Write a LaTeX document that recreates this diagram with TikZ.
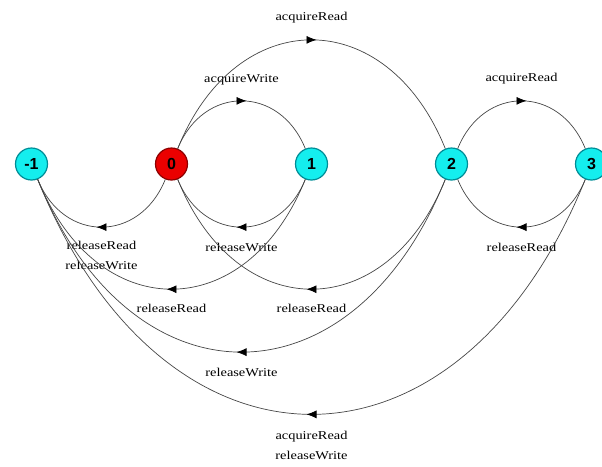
\documentclass[tikz,border=0pt]{standalone}
\usepackage{graphicx}
\usepackage{fontspec}
\setmainfont{Liberation Serif}
\newfontfamily\numfont{Liberation Sans}
\usetikzlibrary{arrows.meta,decorations.markings}
\definecolor{cyanfill}{RGB}{20,238,238}
\definecolor{cyanborder}{RGB}{0,140,150}
\definecolor{redfill}{RGB}{235,0,0}
\definecolor{redborder}{RGB}{140,0,0}
\definecolor{edgecol}{RGB}{70,70,70}
\newcommand\wide[1]{\scalebox{1.2}[1]{#1}}
\begin{document}
\begin{tikzpicture}[x=1pt,y=1pt,
  state/.style={circle, draw=cyanborder, fill=cyanfill, line width=1.2pt,
    minimum size=32pt, inner sep=0pt,
    font=\numfont\bfseries\fontsize{16}{16}\selectfont},
  startstate/.style={state, draw=redborder, fill=redfill},
  trans/.style={draw=edgecol, line width=0.7pt, postaction={decorate},
    decoration={markings, mark=at position 0.5 with
      {\arrow[xshift=5pt,black]{Latex[length=10pt,width=8pt]}}}},
  lbl/.style={inner sep=0pt, text height=9pt, text depth=3pt,
    font=\fontsize{12}{14}\selectfont},
  lbltwo/.style={inner sep=0pt, align=center,
    font=\fontsize{12}{20}\selectfont},
]
\useasboundingbox (0,0) rectangle (602,-466);
\clip (0,0) rectangle (602,-466);

\node[state] (nm1) at (31.5,-164) {-1};
\node[startstate] (n0) at (171.5,-164) {0};
\node[state] (n1) at (311.5,-164) {1};
\node[state] (n2) at (451.5,-164) {2};
\node[state] (n3) at (591.5,-164) {3};

% upper arcs (left to right)
\draw[trans] (n0) .. controls +(68:85.3) and +(112:85.3) ..
  node[midway, lbl, above=15pt] {\wide{acquireWrite}} (n1);
\draw[trans] (n0) .. controls +(68:173) and +(112:173) ..
  node[midway, lbl, above=16pt] {\wide{acquireRead}} (n2);
\draw[trans] (n2) .. controls +(68:85.3) and +(112:85.3) ..
  node[midway, lbl, above=16pt] {\wide{acquireRead}} (n3);

% lower arcs (right to left)
\draw[trans] (n1) .. controls +(-112:85.3) and +(-68:85.3) ..
  node[midway, lbl, below=15pt] {\wide{releaseWrite}} (n0);
\draw[trans] (n0) .. controls +(-112:85.3) and +(-68:85.3) ..
  node[midway, lbltwo, below=14pt] {\wide{releaseRead}\\\wide{releaseWrite}} (nm1);
\draw[trans] (n3) .. controls +(-112:85.3) and +(-68:85.3) ..
  node[midway, lbl, below=15pt] {\wide{releaseRead}} (n2);
\draw[trans] (n1) .. controls +(-112:174.5) and +(-68:174.5) ..
  node[midway, lbl, below=14pt] {\wide{releaseRead}} (nm1);
\draw[trans] (n2) .. controls +(-112:174.5) and +(-68:174.5) ..
  node[midway, lbl, below=14pt] {\wide{releaseRead}} (n0);
\draw[trans] (n2) .. controls +(-112:265) and +(-68:265) ..
  node[midway, lbl, below=15pt] {\wide{releaseWrite}} (nm1);
\draw[trans] (n3) .. controls +(-112:354.5) and +(-68:354.5) ..
  node[midway, lbltwo, below=16pt] {\wide{acquireRead}\\\wide{releaseWrite}} (nm1);
\end{tikzpicture}
\end{document}
